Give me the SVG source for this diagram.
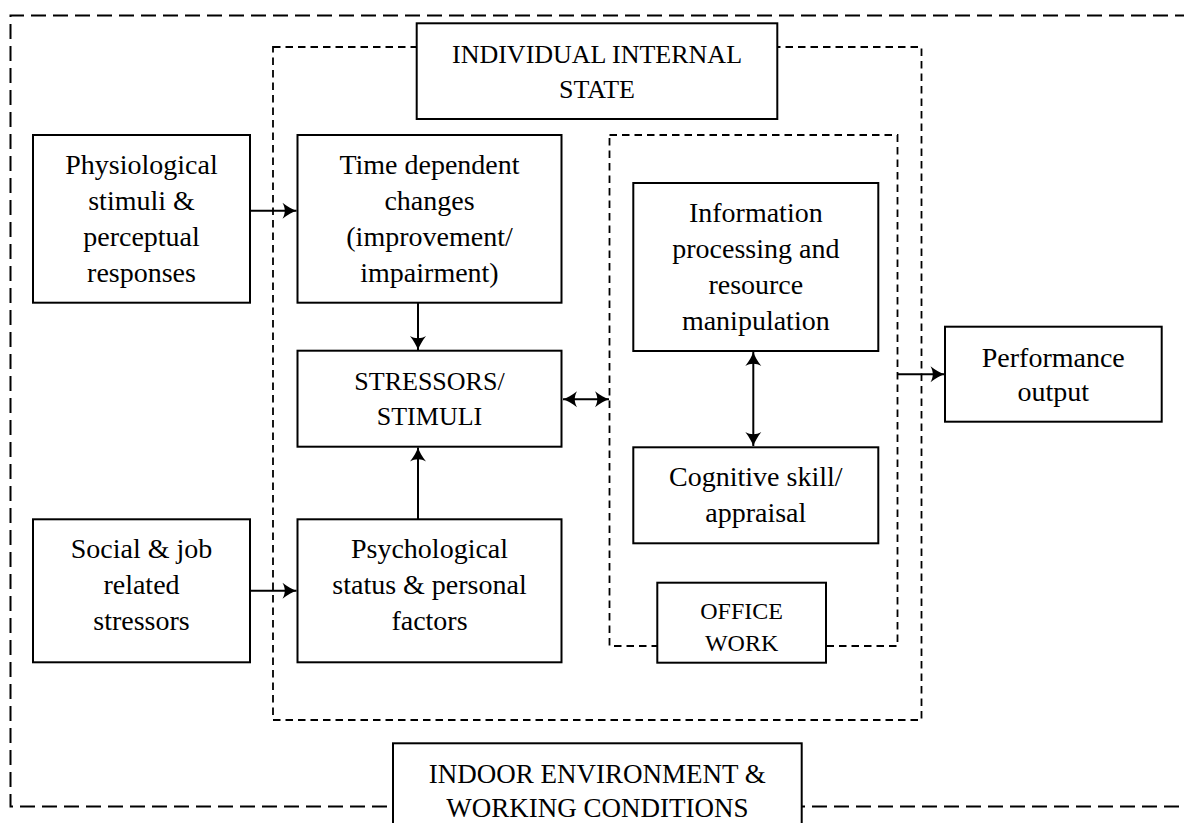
<svg xmlns="http://www.w3.org/2000/svg" width="1184" height="823" viewBox="0 0 1184 823">
<style>
.box{fill:#fff;stroke:#000;stroke-width:2}
.t{font-family:"Liberation Serif","Times New Roman",serif;font-size:28px;text-anchor:middle;fill:#000}
.caps{font-size:26px}
.d1{fill:none;stroke:#000;stroke-width:2;stroke-dasharray:15 7}
.d2{fill:none;stroke:#000;stroke-width:1.8;stroke-dasharray:7.5 5}
.conn{stroke:#000;stroke-width:2;fill:none}
</style>
<defs>
<marker id="ah" viewBox="-15 -9 16 18" refX="0" refY="0" markerWidth="16" markerHeight="18" markerUnits="userSpaceOnUse" orient="auto-start-reverse">
<path d="M0,0 C-4,-1.5 -9,-4 -14,-8 C-11,-3 -11,3 -14,8 C-9,4 -4,1.5 0,0 Z" fill="#000"/>
</marker>
</defs>
<g id="frames">
<path class="d1" d="M1190,15.5 H10.5 V806.5 H1190"/>
<rect class="d2" x="273" y="47" width="648.5" height="673"/>
<rect class="d2" x="609.5" y="135" width="288" height="511"/>
</g>
<g id="connectors">
<line class="conn" x1="250" y1="210.7" x2="296.5" y2="210.7" marker-end="url(#ah)"/>
<line class="conn" x1="250" y1="590.7" x2="296.5" y2="590.7" marker-end="url(#ah)"/>
<line class="conn" x1="418" y1="302.7" x2="418" y2="350" marker-end="url(#ah)"/>
<line class="conn" x1="418" y1="519" x2="418" y2="447.5" marker-end="url(#ah)"/>
<line class="conn" x1="563" y1="399.3" x2="609" y2="399.3" marker-start="url(#ah)" marker-end="url(#ah)"/>
<line class="conn" x1="753.3" y1="352" x2="753.3" y2="446" marker-start="url(#ah)" marker-end="url(#ah)"/>
<line class="conn" x1="897" y1="374.3" x2="944.5" y2="374.3" marker-end="url(#ah)"/>
</g>
<g id="individual">
<rect class="box" x="416.7" y="23.3" width="360.6" height="95.7"/>
<text class="t caps" x="597" y="63">INDIVIDUAL INTERNAL</text>
<text class="t caps" x="597" y="98">STATE</text>
</g>
<g id="physiological">
<rect class="box" x="33" y="135" width="217" height="167.7"/>
<text class="t" x="141.5" y="174">Physiological</text>
<text class="t" x="141.5" y="210">stimuli &amp;</text>
<text class="t" x="141.5" y="246">perceptual</text>
<text class="t" x="141.5" y="282">responses</text>
</g>
<g id="timedep">
<rect class="box" x="297.5" y="135" width="264" height="167.7"/>
<text class="t" x="429.5" y="174">Time dependent</text>
<text class="t" x="429.5" y="210">changes</text>
<text class="t" x="429.5" y="246">(improvement/</text>
<text class="t" x="429.5" y="282">impairment)</text>
</g>
<g id="stressors">
<rect class="box" x="297.5" y="350.7" width="264" height="96"/>
<text class="t caps" x="429.5" y="390">STRESSORS/</text>
<text class="t caps" x="429.5" y="425">STIMULI</text>
</g>
<g id="psychological">
<rect class="box" x="297.5" y="519.3" width="264" height="143"/>
<text class="t" x="429.5" y="558">Psychological</text>
<text class="t" x="429.5" y="594">status &amp; personal</text>
<text class="t" x="429.5" y="630">factors</text>
</g>
<g id="social">
<rect class="box" x="33" y="519.3" width="217" height="143"/>
<text class="t" x="141.5" y="558">Social &amp; job</text>
<text class="t" x="141.5" y="594">related</text>
<text class="t" x="141.5" y="630">stressors</text>
</g>
<g id="information">
<rect class="box" x="633.3" y="183" width="245" height="168"/>
<text class="t" x="755.8" y="222">Information</text>
<text class="t" x="755.8" y="258">processing and</text>
<text class="t" x="755.8" y="294">resource</text>
<text class="t" x="755.8" y="330">manipulation</text>
</g>
<g id="cognitive">
<rect class="box" x="633.3" y="447.3" width="245" height="96"/>
<text class="t" x="755.8" y="486">Cognitive skill/</text>
<text class="t" x="755.8" y="522">appraisal</text>
</g>
<g id="officework">
<rect class="box" x="657.3" y="582.7" width="168.7" height="80"/>
<text class="t" x="741.6" y="619" style="font-size:24px">OFFICE</text>
<text class="t" x="741.6" y="650.7" style="font-size:24px">WORK</text>
</g>
<g id="performance">
<rect class="box" x="945" y="326.7" width="216.7" height="95"/>
<text class="t" x="1053.3" y="366.5">Performance</text>
<text class="t" x="1053.3" y="401">output</text>
</g>
<g id="indoor">
<rect class="box" x="393" y="743.3" width="408.7" height="95"/>
<text class="t caps" x="597.3" y="783" style="font-size:27px">INDOOR ENVIRONMENT &amp;</text>
<text class="t caps" x="597.3" y="816.7" style="font-size:27px">WORKING CONDITIONS</text>
</g>
</svg>
